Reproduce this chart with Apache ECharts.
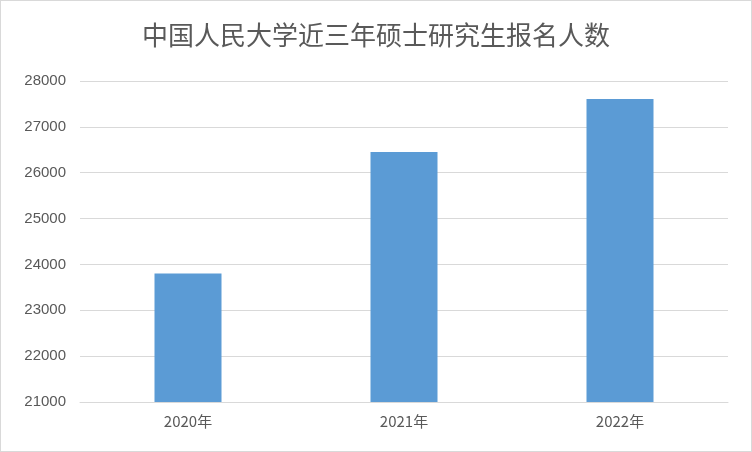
<!DOCTYPE html><html><head><meta charset="utf-8"><script src="https://cdn.jsdelivr.net/npm/echarts@6/dist/echarts.min.js"></script>
<style>body{margin:0}#c{width:750px;height:450px;border:1px solid #d9d9d9}</style></head><body><div id="c"></div><script>
const categories=['2020年','2021年','2022年'];
const values=[23800,26450,27610];
const chart=echarts.init(document.getElementById('c'));
chart.setOption({
 title:{text:'中国人民大学近三年硕士研究生报名人数',left:'center',top:16,textStyle:{fontFamily:'Noto Sans CJK SC',fontWeight:'normal',fontSize:26,color:'#595959'}},
 grid:{left:79,right:23,top:80,bottom:49},
 xAxis:{type:'category',data:categories,axisTick:{show:false},axisLine:{lineStyle:{color:'#d9d9d9'}},axisLabel:{color:'#595959',fontSize:15,margin:12,fontFamily:'Noto Sans CJK SC'}},
 yAxis:{type:'value',min:21000,max:28000,interval:1000,axisLabel:{color:'#595959',fontSize:15,margin:14,formatter:v=>String(v)},splitLine:{lineStyle:{color:'#d9d9d9'}}},
 series:[{type:'bar',data:values,barWidth:67,itemStyle:{color:'#5b9bd5'}}]
});
</script></body></html>
